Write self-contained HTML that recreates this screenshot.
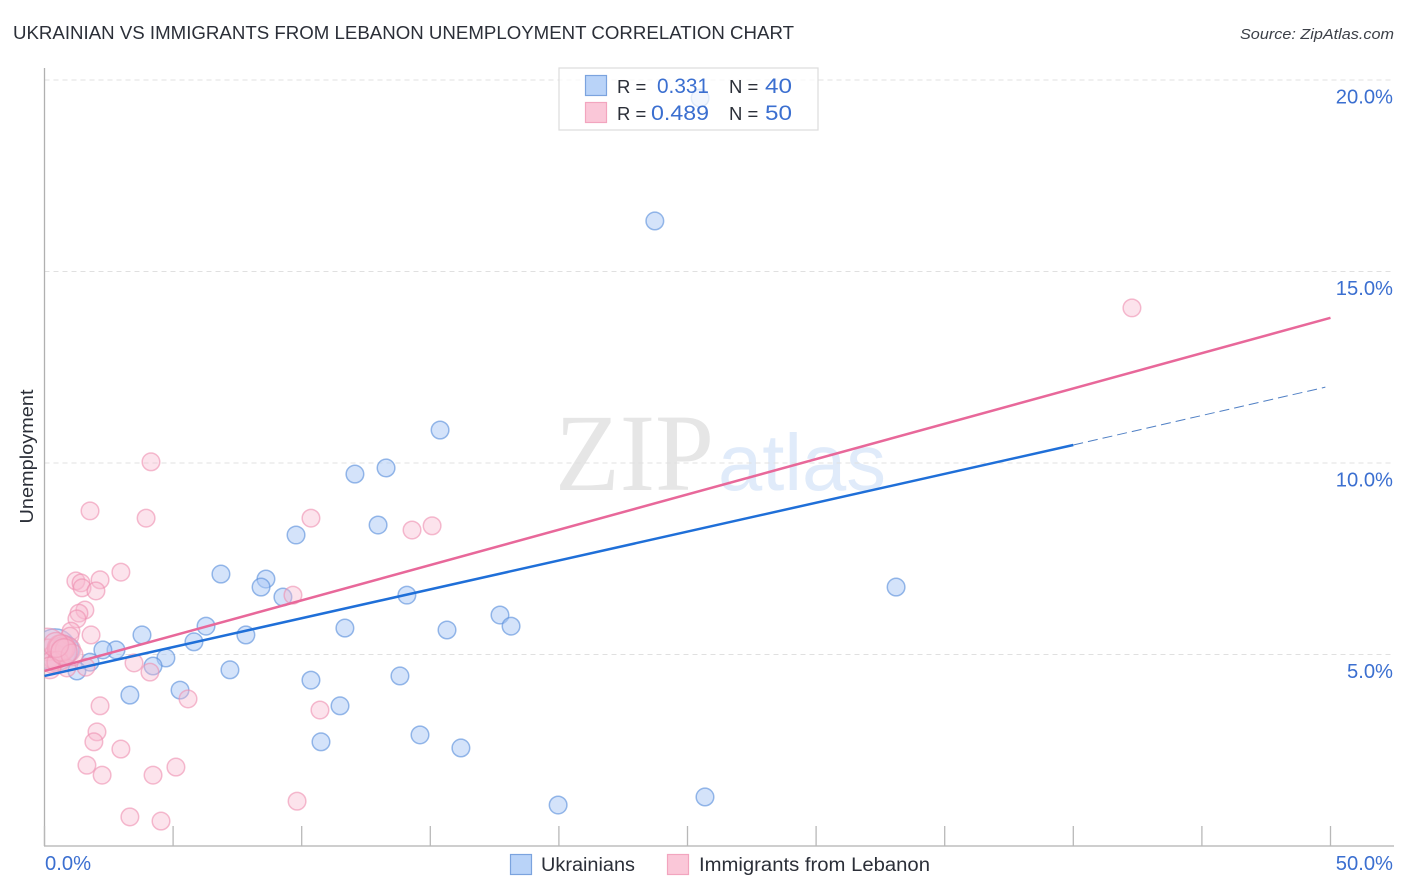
<!DOCTYPE html>
<html>
<head>
<meta charset="utf-8">
<title>Ukrainian vs Immigrants from Lebanon Unemployment Correlation Chart</title>
<style>
html,body{margin:0;padding:0;background:#fff;width:1406px;height:892px;overflow:hidden}
svg{display:block;font-family:"Liberation Sans",sans-serif}
</style>
</head>
<body>
<svg id="chart" xmlns="http://www.w3.org/2000/svg" width="1406" height="892" viewBox="0 0 1406 892">
  <defs><clipPath id="plot-clip"><rect x="44.5" y="60" width="1350" height="786"/></clipPath></defs>
  <text x="13" y="39" font-size="18.5" fill="#2b2f38" textLength="781" lengthAdjust="spacingAndGlyphs">UKRAINIAN VS IMMIGRANTS FROM LEBANON UNEMPLOYMENT CORRELATION CHART</text>
  <text x="1394" y="39" font-size="15" font-style="italic" fill="#3c4048" text-anchor="end" textLength="154" lengthAdjust="spacingAndGlyphs">Source: ZipAtlas.com</text>
  <g>
    <text x="555" y="490" font-family="'Liberation Serif',serif" font-size="110" fill="#e6e6e6" textLength="159" lengthAdjust="spacingAndGlyphs">ZIP</text>
    <text x="718" y="490" font-size="80" fill="#e0ebfa" textLength="168" lengthAdjust="spacingAndGlyphs">atlas</text>
  </g>
  <g id="grid"></g>
  <g id="axes"></g>
  <g id="points" clip-path="url(#plot-clip)"></g>
  <g id="trends"></g>
  <g id="labels"></g>
  <text transform="translate(33,456.5) rotate(-90)" font-size="18.5" fill="#2b2f38" text-anchor="middle" textLength="134" lengthAdjust="spacingAndGlyphs">Unemployment</text>

  <g>
    <rect x="559" y="68" width="259" height="62" fill="#fff" fill-opacity="0.72" stroke="#dcdcdc" stroke-width="1.2"/>
    <rect x="585.5" y="75.5" width="21" height="20" fill="#b9d3f8" stroke="#7ba3de" stroke-width="1.2"/>
    <rect x="585.5" y="102.5" width="21" height="20" fill="#fac7d8" stroke="#f2a5bf" stroke-width="1.2"/>
    <text x="617" y="93" font-size="18.5" fill="#2b2f38">R =</text>
    <text x="709" y="93" font-size="21" fill="#3b6fd0" text-anchor="end" textLength="52" lengthAdjust="spacingAndGlyphs">0.331</text>
    <text x="729" y="93" font-size="18.5" fill="#2b2f38">N =</text>
    <text x="792" y="93" font-size="21" fill="#3b6fd0" text-anchor="end" textLength="27" lengthAdjust="spacingAndGlyphs">40</text>
    <text x="617" y="120" font-size="18.5" fill="#2b2f38">R =</text>
    <text x="709" y="120" font-size="21" fill="#3b6fd0" text-anchor="end" textLength="58" lengthAdjust="spacingAndGlyphs">0.489</text>
    <text x="729" y="120" font-size="18.5" fill="#2b2f38">N =</text>
    <text x="792" y="120" font-size="21" fill="#3b6fd0" text-anchor="end" textLength="27" lengthAdjust="spacingAndGlyphs">50</text>
  </g>

  <g>
    <rect x="510.5" y="854.5" width="21" height="20" fill="#b9d3f8" stroke="#7ba3de" stroke-width="1.2"/>
    <text x="541" y="871" font-size="19" fill="#2b2f38" textLength="94" lengthAdjust="spacingAndGlyphs">Ukrainians</text>
    <rect x="667.5" y="854.5" width="21" height="20" fill="#fac7d8" stroke="#f2a5bf" stroke-width="1.2"/>
    <text x="699" y="871" font-size="19" fill="#2b2f38" textLength="231" lengthAdjust="spacingAndGlyphs">Immigrants from Lebanon</text>
  </g>
</svg>
<script>
const yTicks = [5, 10, 15, 20];
const yTickLabels = ["5.0%", "10.0%", "15.0%", "20.0%"];
const xTicks = [0, 5, 10, 15, 20, 25, 30, 35, 40, 45, 50];
const xEndLabels = ["0.0%", "50.0%"];

const ukrainiansX = [23.73,15.38,13.28,12.07,12.97,9.78,6.86,8.61,8.42,9.27,14.09,33.11,17.71,18.14,11.68,15.65,6.28,3.79,7.83,5.81,2.78,2.27,4.72,4.22,1.77,1.26,7.21,10.36,13.82,5.27,3.32,11.49,10.75,14.60,16.19,19.97,25.68,25.49,0.41,0.80];
const ukrainiansY = [16.32,10.86,9.87,9.71,8.38,8.12,7.10,6.97,6.76,6.50,6.55,6.76,6.03,5.74,5.69,5.64,5.74,5.51,5.51,5.33,5.12,5.12,4.91,4.70,4.80,4.57,4.60,4.33,4.44,4.07,3.94,3.66,2.72,2.90,2.56,1.07,1.28,19.53,5.12,5.12];
const ukrainiansWeight = [1,1,1,1,1,1,1,1,1,1,1,1,1,1,1,1,1,1,1,1,1,1,1,1,1,1,1,1,1,1,1,1,1,1,1,1,1,1,5.7,2.5];

const lebanonX = [42.28,4.14,1.77,3.95,10.36,14.29,15.07,2.97,1.22,1.42,2.16,1.46,2.00,9.66,1.57,1.34,1.26,1.03,1.81,0.99,3.48,4.10,1.61,5.58,2.16,2.04,1.92,10.71,2.97,1.65,2.24,4.22,5.11,9.82,3.32,4.53,0.10,0.14,0.41,0.60,0.62,0.91,0.29,0.52,0.87,0.21,0.68,1.07,0.45,0.76];
const lebanonY = [14.05,10.03,8.75,8.56,8.56,8.25,8.36,7.15,6.92,6.87,6.95,6.74,6.66,6.55,6.16,6.08,5.93,5.61,5.51,5.48,4.78,4.54,4.67,3.84,3.66,2.98,2.72,3.55,2.53,2.11,1.85,1.85,2.06,1.17,0.76,0.65,5.17,5.12,4.93,5.12,5.17,5.12,4.80,4.80,4.65,4.65,5.17,4.99,5.25,5.07];
const lebanonWeight = [1,1,1,1,1,1,1,1,1,1,1,1,1,1,1,1,1,1,1,1,1,1,1,1,1,1,1,1,1,1,1,1,1,1,1,1,5,1.5,2,2,2.2,2,1.5,1.5,1,1.5,2.2,1.5,2,2.2];

const ukrainiansTrendX = [0, 40, 49.8];
const ukrainiansTrendY = [4.44, 10.47, 11.98];
const lebanonTrendX = [0, 50];
const lebanonTrendY = [4.57, 13.79];

const NS = "http://www.w3.org/2000/svg";
const xScale = v => 44.5 + v * 25.72;
const yScale = v => 846 - v * 38.3;
const baseRadius = 8.8;

function make(parent, tag, attrs) {
  const el = document.createElementNS(NS, tag);
  for (const k in attrs) el.setAttribute(k, attrs[k]);
  parent.appendChild(el);
  return el;
}

const grid = document.getElementById("grid");
yTicks.forEach(t => {
  const l = make(grid, "line", {x1: 44.5, x2: 1394, y1: yScale(t), y2: yScale(t), stroke: "#e0e0e0", "stroke-width": 1, "stroke-dasharray": "5 4"});
  
  
});

const axes = document.getElementById("axes");
const yAxis = make(axes, "line", {x1: 44.5, x2: 44.5, y1: 68, y2: 846, stroke: "#b0b0b0", "stroke-width": 1.3});


const xAxis = make(axes, "line", {x1: 44, x2: 1394, y1: 846, y2: 846, stroke: "#b0b0b0", "stroke-width": 1.3});


xTicks.forEach(t => {
  const l = make(axes, "line", {x1: xScale(t), x2: xScale(t), y1: 826, y2: 846, stroke: "#b8b8b8", "stroke-width": 1.3});
  
  
});

const labels = document.getElementById("labels");
yTicks.forEach((t, i) => {
  const el = make(labels, "text", {x: 1393, y: yScale(t) + 23.5, "font-size": 20.2, fill: "#3b6fd0", "text-anchor": "end"});
  
  
  el.textContent = yTickLabels[i];
});
const x0 = make(labels, "text", {x: 45, y: 870, "font-size": 20.2, fill: "#3b6fd0"});


x0.textContent = xEndLabels[0];
const x1 = make(labels, "text", {x: 1393, y: 870, "font-size": 20.2, fill: "#3b6fd0", "text-anchor": "end"});


x1.textContent = xEndLabels[1];

const points = document.getElementById("points");
ukrainiansX.forEach((v, i) => {
  const c = make(points, "circle", {cx: xScale(v), cy: yScale(ukrainiansY[i]), r: baseRadius * Math.sqrt(ukrainiansWeight[i]), fill: "#a9c8f5", "fill-opacity": 0.5, stroke: "#5b8fdc", "stroke-opacity": 0.62, "stroke-width": 1.5});
  
  
});
lebanonX.forEach((v, i) => {
  const c = make(points, "circle", {cx: xScale(v), cy: yScale(lebanonY[i]), r: baseRadius * Math.sqrt(lebanonWeight[i]), fill: "#f8b9cf", "fill-opacity": 0.4, stroke: "#ee8fb0", "stroke-opacity": 0.6, "stroke-width": 1.5});
  
  
});

const trends = document.getElementById("trends");
const bSolid = make(trends, "line", {x1: xScale(ukrainiansTrendX[0]), y1: yScale(ukrainiansTrendY[0]), x2: xScale(ukrainiansTrendX[1]), y2: yScale(ukrainiansTrendY[1]), stroke: "#1f6fd8", "stroke-width": 2.5});


const bDash = make(trends, "line", {x1: xScale(ukrainiansTrendX[1]), y1: yScale(ukrainiansTrendY[1]), x2: xScale(ukrainiansTrendX[2]), y2: yScale(ukrainiansTrendY[2]), stroke: "#4f7fc4", "stroke-width": 1, "stroke-dasharray": "10 5"});


const pSolid = make(trends, "line", {x1: xScale(lebanonTrendX[0]), y1: yScale(lebanonTrendY[0]), x2: xScale(lebanonTrendX[1]), y2: yScale(lebanonTrendY[1]), stroke: "#e8689a", "stroke-width": 2.5});


</script>
</body>
</html>
